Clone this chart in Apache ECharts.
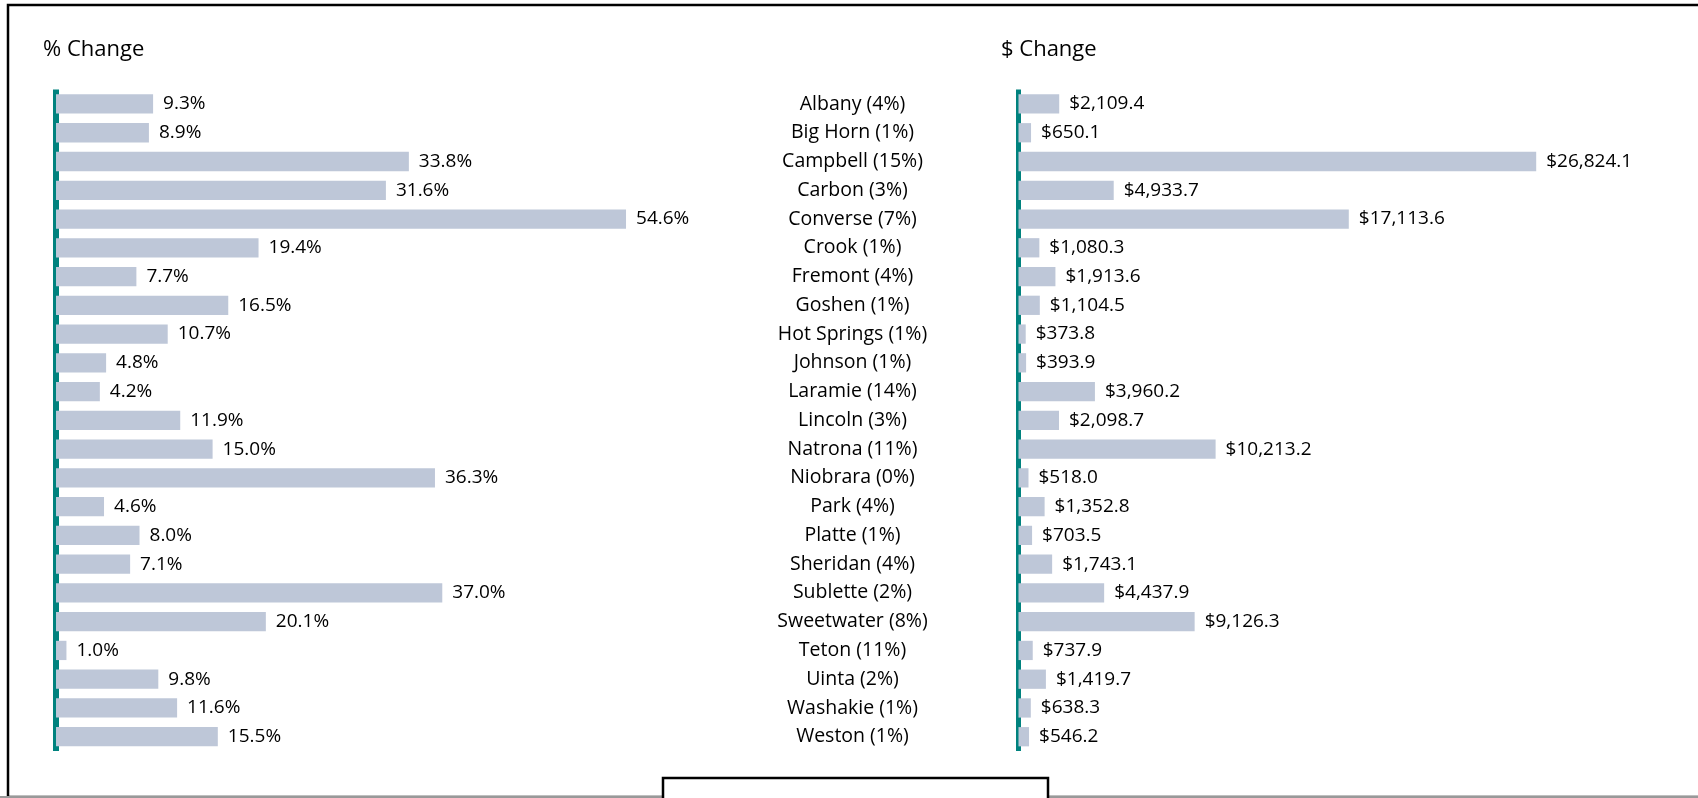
<!DOCTYPE html>
<html>
<head>
<meta charset="utf-8">
<script src="https://cdn.jsdelivr.net/npm/echarts@6/dist/echarts.min.js"></script>
<style>
html,body{margin:0;padding:0;background:#fff;}
#c{width:1698px;height:798px;}
</style>
</head>
<body>
<div id="c"></div>
<script>
const counties = ['Albany','Big Horn','Campbell','Carbon','Converse','Crook','Fremont','Goshen','Hot Springs','Johnson','Laramie','Lincoln','Natrona','Niobrara','Park','Platte','Sheridan','Sublette','Sweetwater','Teton','Uinta','Washakie','Weston'];
const shares = [4,1,15,3,7,1,4,1,1,1,14,3,11,0,4,1,4,2,8,11,2,1,1];
const pctChange = [9.3,8.9,33.8,31.6,54.6,19.4,7.7,16.5,10.7,4.8,4.2,11.9,15.0,36.3,4.6,8.0,7.1,37.0,20.1,1.0,9.8,11.6,15.5];
const dollarChange = [2109.4,650.1,26824.1,4933.7,17113.6,1080.3,1913.6,1104.5,373.8,393.9,3960.2,2098.7,10213.2,518.0,1352.8,703.5,1743.1,4437.9,9126.3,737.9,1419.7,638.3,546.2];
const titles = ['% Change','$ Change'];
const footnote = 'Dollar amounts in millions';

const catLabels = counties.map((c,i)=>c+' ('+shares[i]+'%)');
const FONT = '"Open Sans", sans-serif';
const TXT = '#000';
const BAR = '#bec7d8';
const TEAL = '#00827e';

const chart = echarts.init(document.getElementById('c'));
const gridTop = 89.6, gridH = 661.5;
const fmtMoney = v => '$' + v.toLocaleString('en-US',{minimumFractionDigits:1,maximumFractionDigits:1});

chart.setOption({
  animation:false,
  textStyle:{fontFamily:FONT},
  grid:[
    {left:56, top:gridTop, width:626.4, height:gridH, containLabel:false},
    {left:1018.5, top:gridTop, width:579, height:gridH, containLabel:false}
  ],
  xAxis:[
    {gridIndex:0, type:'value', min:0, max:60, show:false},
    {gridIndex:1, type:'value', min:0, max:30000, show:false}
  ],
  yAxis:[
    {gridIndex:0, type:'category', data:catLabels, inverse:true,
     axisLine:{show:true, lineStyle:{color:TEAL, width:6, cap:'butt'}}, axisTick:{show:false}, axisLabel:{show:false}, splitLine:{show:false}},
    {gridIndex:1, type:'category', data:catLabels, inverse:true,
     axisLine:{show:true, lineStyle:{color:TEAL, width:5, cap:'butt'}}, axisTick:{show:false},
     axisLabel:{show:true, align:'center', margin:166, color:TXT, fontSize:19.5, fontFamily:FONT}, splitLine:{show:false}}
  ],
  series:[
    {type:'bar', xAxisIndex:0, yAxisIndex:0, data:pctChange, barCategoryGap:'33%', z:1,
     itemStyle:{color:BAR},
     label:{show:true, position:'right', distance:10, color:TXT, fontSize:19, fontFamily:FONT, formatter:p=>p.value.toFixed(1)+'%'}},
    {type:'bar', xAxisIndex:1, yAxisIndex:1, data:dollarChange, barCategoryGap:'33%', z:1,
     itemStyle:{color:BAR},
     label:{show:true, position:'right', distance:10, color:TXT, fontSize:19, fontFamily:FONT, formatter:p=>fmtMoney(p.value)}}
  ],
  graphic:[
    {type:'rect', shape:{x:8, y:5, width:1720, height:792}, style:{fill:'none', stroke:'#000', lineWidth:2.5}, z:-1, silent:true},
    {type:'line', shape:{x1:0, y1:797, x2:1698, y2:797}, style:{stroke:'#999', lineWidth:2}, z:0, silent:true},
    {type:'text', left:43, top:39, style:{text:titles[0], fill:TXT, font:'22px "Open Sans", sans-serif'}},
    {type:'text', left:1001, top:39, style:{text:titles[1], fill:TXT, font:'22px "Open Sans", sans-serif'}},
    {type:'rect', shape:{x:663, y:778, width:385, height:40}, style:{fill:'#fff', stroke:'#000', lineWidth:2.5}, z:5, silent:true},
    {type:'text', x:855, y:807, z:6, style:{text:footnote, fill:TXT, font:'20px "Open Sans", sans-serif', align:'center', verticalAlign:'middle'}}
  ]
});
</script>
</body>
</html>
